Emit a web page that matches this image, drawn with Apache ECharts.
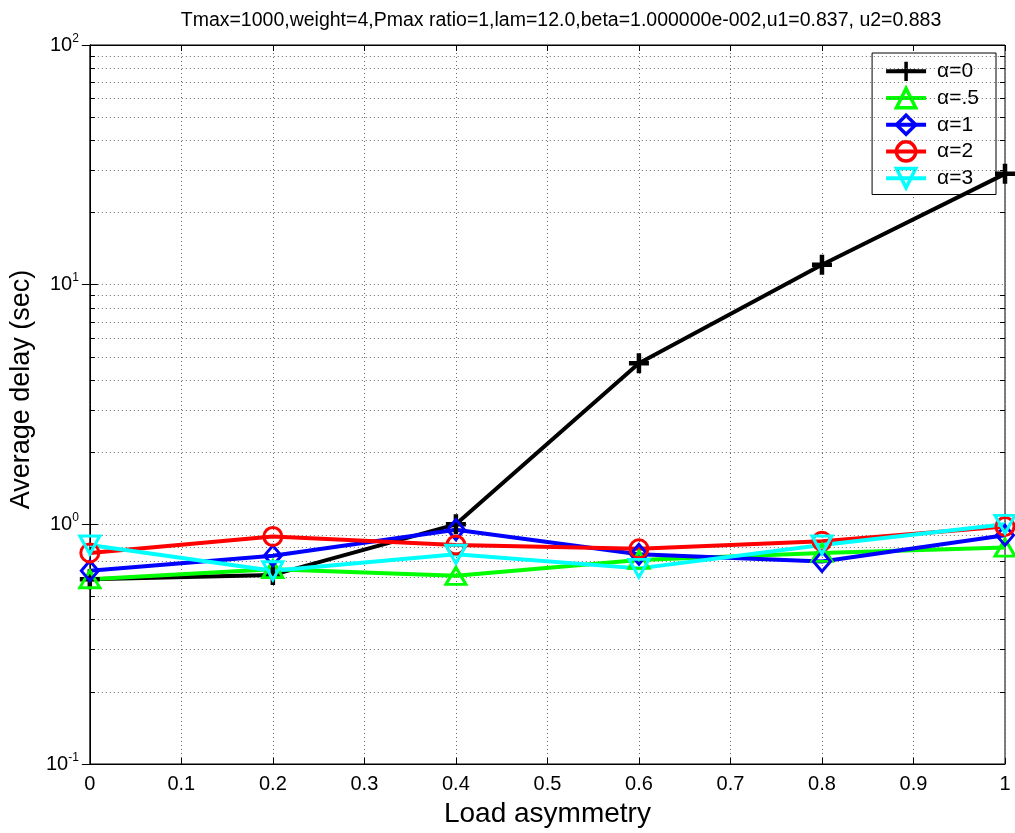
<!DOCTYPE html>
<html><head><meta charset="utf-8">
<script src="https://cdn.jsdelivr.net/npm/echarts@6/dist/echarts.min.js"></script>
<style>html,body{margin:0;padding:0;background:#fff}#c{width:1015px;height:833px}</style>
</head><body><div id="c"></div>
<script>
const xValues = [0, 0.2, 0.4, 0.6, 0.8, 1];
const alpha0  = [0.59, 0.615, 1.0, 4.7, 12.1, 29];
const alpha05 = [0.59, 0.65, 0.61, 0.71, 0.76, 0.80];
const alpha1  = [0.64, 0.74, 0.95, 0.75, 0.70, 0.90];
const alpha2  = [0.76, 0.89, 0.82, 0.79, 0.85, 0.98];
const alpha3  = [0.82, 0.64, 0.75, 0.655, 0.82, 1.0];
const seriesNames = ['α=0', 'α=.5', 'α=1', 'α=2', 'α=3'];
const minorGrid = [0.2,0.3,0.4,0.5,0.6,0.7,0.8,0.9,2,3,4,5,6,7,8,9,20,30,40,50,60,70,80,90];
const titleText = 'Tmax=1000,weight=4,Pmax ratio=1,lam=12.0,beta=1.000000e-002,u1=0.837, u2=0.883';

const FONT = '"Liberation Sans", Arial, sans-serif';
const pair = ys => xValues.map((x, i) => [x, ys[i]]);

function mk(name, ys, color, symbol, size, bw) {
  return {
    name, type: 'line', data: pair(ys), symbol, symbolSize: size,
    showAllSymbol: true, z: 5,
    lineStyle: { color, width: 4 },
    itemStyle: { color: 'rgba(0,0,0,0)', borderColor: color, borderWidth: bw || 3 },
    emphasis: { disabled: true }
  };
}

const gridLines = {
  type: 'line', data: [], z: 1, silent: true,
  markLine: {
    silent: true, symbol: ['none', 'none'], label: { show: false }, animation: false,
    lineStyle: { color: '#666', width: 1, type: [1, 3] },
    data: minorGrid.map(v => ({ yAxis: v }))
  }
};
const tickSegs = [];
minorGrid.forEach(v => {
  tickSegs.push([{ coord: [0, v] }, { coord: [0.0055, v] }]);
  tickSegs.push([{ coord: [0.9945, v] }, { coord: [1, v] }]);
});
const minorTicks = {
  type: 'line', data: [], z: 2, silent: true,
  markLine: {
    silent: true, symbol: ['none', 'none'], label: { show: false }, animation: false,
    lineStyle: { color: '#000', width: 1, type: 'solid' },
    data: tickSegs
  }
};

const chart = echarts.init(document.getElementById('c'), null, { renderer: 'canvas' });
chart.setOption({
  animation: false,
  backgroundColor: '#fff',
  textStyle: { fontFamily: FONT },
  title: {
    text: titleText, left: 556, top: 6, textAlign: 'center',
    textStyle: { fontFamily: FONT, fontSize: 19.5, fontWeight: 'normal', color: '#000' }
  },
  grid: { left: 88, right: 10, top: 45, bottom: 66, show: true, borderColor: '#000', borderWidth: 1, containLabel: false },
  legend: {
    data: seriesNames, orient: 'vertical', right: 19, top: 53,
    itemWidth: 40, itemHeight: 24, itemGap: 4,
    padding: [7, 17, 5, 12],
    backgroundColor: '#fff', borderColor: '#000', borderWidth: 1,
    lineStyle: { width: 4 },
    itemStyle: { borderWidth: 3.5 },
    textStyle: { fontFamily: FONT, fontSize: 21, color: '#000', padding: [0, 0, 0, 6] },
    selectedMode: false
  },
  xAxis: [{
    type: 'value', min: 0, max: 1, interval: 0.1,
    name: 'Load asymmetry', nameLocation: 'middle', nameGap: 36,
    nameTextStyle: { fontFamily: FONT, fontSize: 28, color: '#000' },
    axisLine: { lineStyle: { color: '#000' } },
    axisTick: { inside: true, length: 6, lineStyle: { color: '#000' } },
    axisLabel: { fontFamily: FONT, fontSize: 20, color: '#000', margin: 10 },
    splitLine: { show: true, lineStyle: { color: '#666', width: 1, type: [1, 3] } }
  }, {
    type: 'value', min: 0, max: 1, interval: 0.1, position: 'top',
    axisLine: { show: true, lineStyle: { color: '#000' } },
    axisTick: { inside: true, length: 6, lineStyle: { color: '#000' } },
    axisLabel: { show: false }, splitLine: { show: false }
  }],
  yAxis: [{
    type: 'log', logBase: 10, min: 0.1, max: 100,
    name: 'Average delay (sec)', nameLocation: 'middle', nameGap: 52,
    nameTextStyle: { fontFamily: FONT, fontSize: 27, color: '#000', padding: [0, 0, 0, 30] },
    axisLine: { lineStyle: { color: '#000' } },
    axisTick: { inside: true, length: 8, lineStyle: { color: '#000' } },
    axisLabel: {
      margin: 11, color: '#000',
      formatter: v => '{b|10}{s|' + Math.round(Math.log10(v)) + '}',
      rich: {
        b: { fontFamily: FONT, fontSize: 20, color: '#000' },
        s: { fontFamily: FONT, fontSize: 12, color: '#000', padding: [0, 0, 13, 0] }
      }
    },
    splitLine: { show: true, lineStyle: { color: '#666', width: 1, type: [1, 3] } }
  }, {
    type: 'log', logBase: 10, min: 0.1, max: 100, position: 'right',
    axisLine: { show: true, lineStyle: { color: '#000' } },
    axisTick: { inside: true, length: 8, lineStyle: { color: '#000' } },
    axisLabel: { show: false }, splitLine: { show: false }
  }],
  series: [
    gridLines, minorTicks,
    mk(seriesNames[0], alpha0, '#000000', 'path://M5,0 L5,10 M0,5 L10,5', 20, 4.5),
    mk(seriesNames[1], alpha05, '#00ff00', 'triangle', [20, 17]),
    mk(seriesNames[2], alpha1, '#0000ff', 'diamond', [17, 20]),
    mk(seriesNames[3], alpha2, '#ff0000', 'circle', 18),
    mk(seriesNames[4], alpha3, '#00ffff', 'path://M0,0 L10,0 L5,9 Z', [20, 18])
  ]
});
</script></body></html>
